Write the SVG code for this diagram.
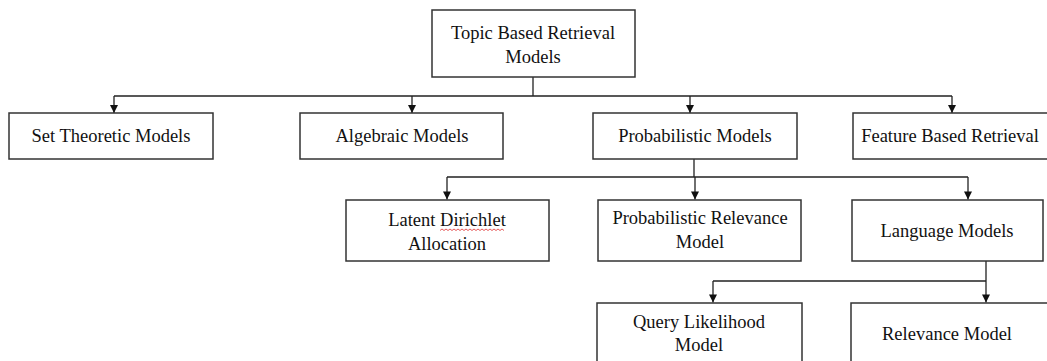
<svg xmlns="http://www.w3.org/2000/svg" width="1047" height="361" viewBox="0 0 1047 361">
<style>
.box{fill:#fff;stroke:#333;stroke-width:1.5}
.t{font-family:"Liberation Serif","Times New Roman",serif;font-size:18.5px;fill:#111;text-anchor:middle}
.c{fill:none;stroke:#222;stroke-width:1.3}
</style>
<defs>
<marker id="ah" viewBox="0 0 10 10" refX="10" refY="5" markerWidth="9" markerHeight="8" markerUnits="userSpaceOnUse" orient="auto">
<path d="M0,0 L10,5 L0,10 z" fill="#111"/>
</marker>
</defs>
<rect width="1047" height="361" fill="#fff"/>
<g id="connectors">
<path class="c" d="M533,77 V96 M114,96 H952 M447,177 H968 M694,159 V177 M986,261 V281 M713,281 H986"/>
<path class="c" d="M114,96 V113" marker-end="url(#ah)"/>
<path class="c" d="M412,96 V113" marker-end="url(#ah)"/>
<path class="c" d="M690,96 V113" marker-end="url(#ah)"/>
<path class="c" d="M952,96 V113" marker-end="url(#ah)"/>
<path class="c" d="M447,177 V199.5" marker-end="url(#ah)"/>
<path class="c" d="M695,177 V199.5" marker-end="url(#ah)"/>
<path class="c" d="M968,177 V199.5" marker-end="url(#ah)"/>
<path class="c" d="M713,281 V302.5" marker-end="url(#ah)"/>
<path class="c" d="M986,281 V302.5" marker-end="url(#ah)"/>
</g>
<g id="topic">
<rect class="box" x="432" y="10" width="203" height="67"/>
<text class="t" x="533" y="39">Topic Based Retrieval</text>
<text class="t" x="533" y="63">Models</text>
</g>
<g id="set">
<rect class="box" x="9" y="113" width="204" height="46"/>
<text class="t" x="111" y="142">Set Theoretic Models</text>
</g>
<g id="algebraic">
<rect class="box" x="300" y="113" width="203" height="46"/>
<text class="t" x="402" y="142">Algebraic Models</text>
</g>
<g id="probabilistic">
<rect class="box" x="593" y="113" width="204" height="46"/>
<text class="t" x="695" y="142">Probabilistic Models</text>
</g>
<g id="feature">
<rect class="box" x="853" y="113" width="200" height="46"/>
<text class="t" x="950" y="142">Feature Based Retrieval</text>
</g>
<g id="lda">
<rect class="box" x="346" y="200" width="203" height="61"/>
<text class="t" x="447" y="226">Latent Dirichlet</text>
<text class="t" x="447" y="250">Allocation</text>
<path d="M440,230.5 l2,-1.5 l2,1.5 l2,-1.5 l2,1.5 l2,-1.5 l2,1.5 l2,-1.5 l2,1.5 l2,-1.5 l2,1.5 l2,-1.5 l2,1.5 l2,-1.5 l2,1.5 l2,-1.5 l2,1.5 l2,-1.5 l2,1.5 l2,-1.5 l2,1.5 l2,-1.5 l2,1.5 l2,-1.5 l2,1.5 l2,-1.5 l2,1.5 l2,-1.5 l2,1.5 l2,-1.5 l2,1.5 l2,-1.5 l2,1.5" fill="none" stroke="#e03030" stroke-width="0.8"/>
</g>
<g id="prm">
<rect class="box" x="598" y="200" width="203" height="61"/>
<text class="t" x="700" y="224">Probabilistic Relevance</text>
<text class="t" x="700" y="248">Model</text>
</g>
<g id="lm">
<rect class="box" x="852" y="200" width="191" height="61"/>
<text class="t" x="947" y="237">Language Models</text>
</g>
<g id="qlm">
<rect class="box" x="597" y="303" width="205" height="70"/>
<text class="t" x="699" y="328">Query Likelihood</text>
<text class="t" x="699" y="351">Model</text>
</g>
<g id="rm">
<rect class="box" x="851" y="303" width="200" height="70"/>
<text class="t" x="947" y="340">Relevance Model</text>
</g>
</svg>
